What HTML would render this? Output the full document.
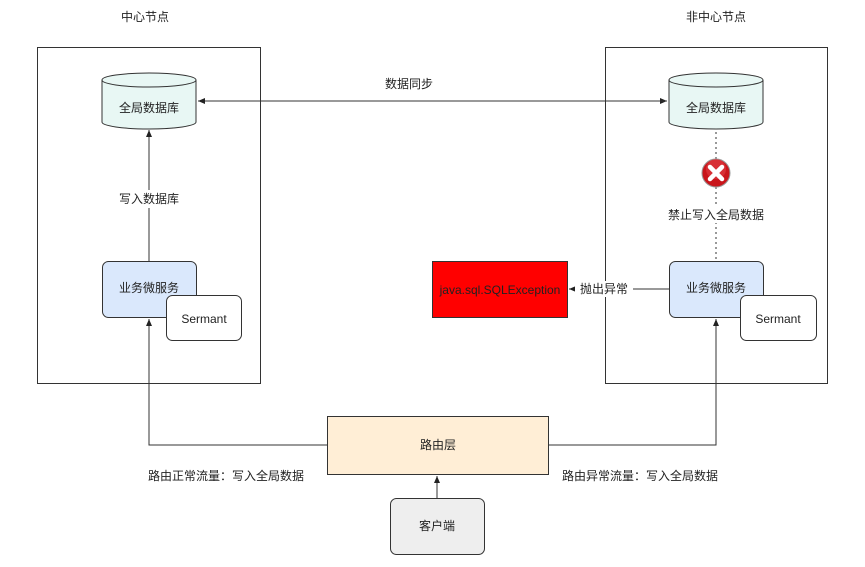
<!DOCTYPE html>
<html><head><meta charset="utf-8"><style>
body{margin:0;background:#fff;}
svg text{font-family:"Liberation Sans","Noto Sans CJK SC",sans-serif;font-size:12px;fill:#222;}
</style></head><body>
<svg width="865" height="562" viewBox="0 0 865 562" xmlns="http://www.w3.org/2000/svg">
<defs><marker id="a" markerWidth="8" markerHeight="8" refX="7" refY="4" orient="auto" markerUnits="userSpaceOnUse"><path d="M0,1 L7,4 L0,7z" fill="#222"/></marker></defs>
<text x="145" y="21" text-anchor="middle">中心节点</text>
<text x="716" y="21" text-anchor="middle">非中心节点</text>
<rect x="37.5" y="47.5" width="223" height="336" fill="none" stroke="#333"/>
<rect x="605.5" y="47.5" width="222" height="336" fill="none" stroke="#333"/>
<!-- cylinders -->
<g stroke="#333" fill="#e8f7f4">
<path d="M102,80 v42 a47,7 0 0 0 94,0 v-42"/>
<ellipse cx="149" cy="80" rx="47" ry="7"/>
<path d="M669,80 v42 a47,7 0 0 0 94,0 v-42"/>
<ellipse cx="716" cy="80" rx="47" ry="7"/>
</g>
<text x="149" y="112" text-anchor="middle">全局数据库</text>
<text x="716" y="112" text-anchor="middle">全局数据库</text>
<line x1="204" y1="101" x2="667" y2="101" stroke="#333" marker-end="url(#a)"/>
<line x1="667" y1="101" x2="198" y2="101" stroke="#333" marker-end="url(#a)"/>
<text x="409" y="88" text-anchor="middle">数据同步</text>
<!-- left vertical -->
<line x1="149" y1="261" x2="149" y2="130" stroke="#333" marker-end="url(#a)"/>
<rect x="112" y="190" width="74" height="18" fill="#fff"/>
<text x="149" y="203" text-anchor="middle">写入数据库</text>
<!-- right dotted -->
<line x1="716" y1="132" x2="716" y2="261" stroke="#333" stroke-dasharray="2,3"/>
<rect x="664" y="205" width="104" height="18" fill="#fff"/>
<text x="716" y="219" text-anchor="middle">禁止写入全局数据</text>
<circle cx="716" cy="173" r="14" fill="#c9151b" stroke="#999"/>
<circle cx="716" cy="169" r="10" fill="#e5484d" opacity="0.5"/>
<path d="M710,167 L722,179 M722,167 L710,179" stroke="#fff" stroke-width="4.5" stroke-linecap="round"/>
<!-- service boxes -->
<rect x="102.5" y="261.5" width="94" height="56" rx="6" fill="#dae8fc" stroke="#333"/>
<text x="149" y="292" text-anchor="middle">业务微服务</text>
<rect x="166.5" y="295.5" width="75" height="45" rx="6" fill="#fff" stroke="#333"/>
<text x="204" y="323" text-anchor="middle">Sermant</text>
<rect x="669.5" y="261.5" width="94" height="56" rx="6" fill="#dae8fc" stroke="#333"/>
<text x="716" y="292" text-anchor="middle">业务微服务</text>
<rect x="740.5" y="295.5" width="76" height="45" rx="6" fill="#fff" stroke="#333"/>
<text x="778" y="323" text-anchor="middle">Sermant</text>
<!-- exception -->
<line x1="669" y1="289" x2="569" y2="289" stroke="#333" marker-end="url(#a)"/>
<rect x="575" y="281" width="58" height="16" fill="#fff"/>
<text x="604" y="293" text-anchor="middle">抛出异常</text>
<rect x="432.5" y="261.5" width="135" height="56" fill="#ff0000" stroke="#333"/>
<text x="500" y="294" text-anchor="middle">java.sql.SQLException</text>
<!-- routing -->
<rect x="327.5" y="416.5" width="221" height="58" fill="#ffeed6" stroke="#333"/>
<text x="438" y="449" text-anchor="middle">路由层</text>
<polyline points="327,445 149,445 149,319" fill="none" stroke="#333" marker-end="url(#a)"/>
<polyline points="548,445 716,445 716,319" fill="none" stroke="#333" marker-end="url(#a)"/>
<text x="226" y="480" text-anchor="middle">路由正常流量：写入全局数据</text>
<text x="640" y="480" text-anchor="middle">路由异常流量：写入全局数据</text>
<line x1="437" y1="498" x2="437" y2="476" stroke="#333" marker-end="url(#a)"/>
<rect x="390.5" y="498.5" width="94" height="56" rx="6" fill="#eeeeee" stroke="#333"/>
<text x="437" y="530" text-anchor="middle">客户端</text>
</svg>
</body></html>
